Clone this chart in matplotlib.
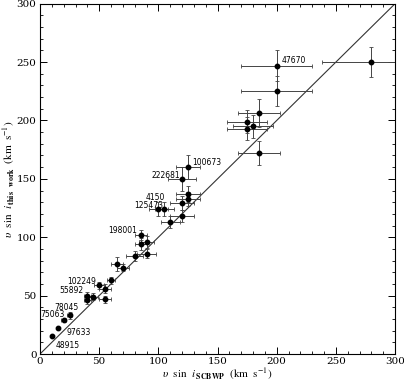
import numpy as np
import matplotlib.pyplot as plt
from matplotlib.ticker import MultipleLocator

plt.rcParams['mathtext.fontset'] = 'stix'
plt.rcParams['font.family'] = 'DejaVu Serif'

# v sin i from SCBWP catalogue (x) and from this work (y), with errors
vsini_ref = [10, 15, 20, 25, 40, 40, 45, 55, 50, 55, 60, 65, 70, 80, 85, 85, 90, 90,
             100, 105, 110, 120, 120, 125, 125, 120, 125,
             175, 175, 180, 185, 185, 200, 200, 280]
vsini_this = [15, 22, 29, 33, 50, 46, 49, 47, 59, 56, 63, 77, 74, 84, 94, 102, 96, 86,
              124, 124, 113, 118, 129, 133, 137, 150, 160,
              199, 193, 195, 206, 172, 247, 225, 250]
err_ref = [0, 0, 2, 2, 3, 3, 4, 5, 4, 5, 3, 5, 5, 7, 5, 5, 6, 8,
           8, 8, 8, 10, 10, 10, 10, 12, 10,
           17, 17, 17, 18, 18, 30, 30, 42]
err_this = [0, 0, 1, 3, 3, 3, 3, 3, 3, 4, 3, 6, 3, 4, 5, 4, 5, 4,
            6, 6, 5, 5, 6, 6, 7, 10, 10,
            10, 10, 10, 12, 10, 13, 13, 13]

# HD numbers written next to some points
hd_names = ['47670', '100673', '222681', '4150', '125473', '198001',
            '102249', '55892', '78045', '75063', '97633', '48915']
hd_x = [204, 129, 118, 106, 104, 82, 47, 37, 33, 21, 22, 13]
hd_y = [251, 164, 153, 134, 127, 106, 62, 54, 40, 34, 18, 7]
hd_align = ['left', 'left', 'right', 'right', 'right', 'right',
            'right', 'right', 'right', 'right', 'left', 'left']

fig = plt.figure(figsize=(4.04, 3.85), dpi=100)
ax = fig.add_axes([0.099, 0.0805, 0.879, 0.910])

ax.plot([0, 300], [0, 300], color='#333333', lw=0.8)
ax.errorbar(vsini_ref, vsini_this, xerr=err_ref, yerr=err_this, fmt='o',
            color='black', ms=3.2, ecolor='#444444', elinewidth=0.7,
            capsize=1.5, capthick=0.6)

for name, x, y, ha in zip(hd_names, hd_x, hd_y, hd_align):
    ax.text(x, y, name, fontsize=5.5, ha=ha, va='center', family='DejaVu Sans')

ax.set_xlim(0, 300)
ax.set_ylim(0, 300)
ax.xaxis.set_major_locator(MultipleLocator(50))
ax.xaxis.set_minor_locator(MultipleLocator(10))
ax.yaxis.set_major_locator(MultipleLocator(50))
ax.yaxis.set_minor_locator(MultipleLocator(10))
ax.tick_params(which='both', direction='in', top=True, right=True, labelsize=7.5)
ax.tick_params(which='major', length=5, width=0.7, pad=2.5)
ax.tick_params(which='minor', length=2.5, width=0.6)
for s in ax.spines.values():
    s.set_linewidth(0.8)

ax.set_xlabel(r'$\upsilon\ \ \mathrm{sin}\ \ i_{\ \mathbf{SCBWP}}\ \ (\mathrm{km\ \ s^{-1}})$',
              fontsize=8, labelpad=0)
ax.set_ylabel(r'$\upsilon\ \ \mathrm{sin}\ \ i_{\ \mathbf{this}\quad\mathbf{work}}\ \ (\mathrm{km\ \ s^{-1}})$',
              fontsize=8, labelpad=0)

fig.savefig('out.png', dpi=100)
